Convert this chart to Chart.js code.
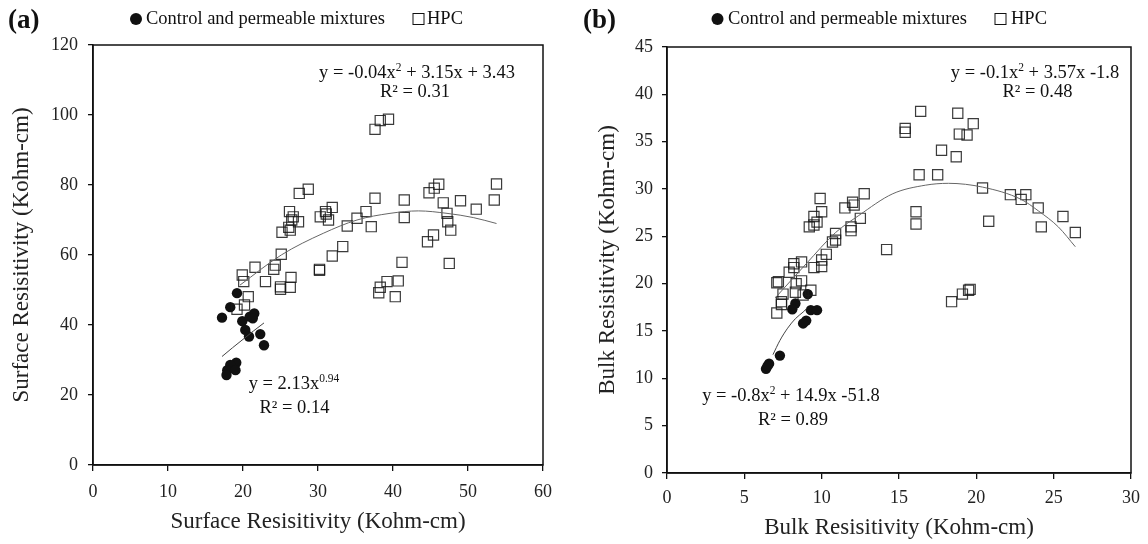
<!DOCTYPE html>
<html>
<head>
<meta charset="utf-8">
<script src="https://cdn.jsdelivr.net/npm/chart.js@4.4.1/dist/chart.umd.min.js"></script>
<style>
  html, body { margin: 0; padding: 0; background: #fff; }
  #wrap { position: relative; width: 1148px; height: 544px; }
  canvas { position: absolute; top: 0; }
  #chartA { left: 0; }
  #chartB { left: 574px; }
</style>
</head>
<body>
<div id="wrap">
  <canvas id="chartA" width="574" height="544"></canvas>
  <canvas id="chartB" width="574" height="544"></canvas>
</div>
<script>
// ---- (a) surface resistivity ----
const ctrlSurfX = [19.2, 18.3, 17.2, 19.9, 20.9, 21.5, 21.3, 20.3, 20.8, 22.3, 22.8, 19.1, 18.3, 17.9, 17.8, 19.0];
const ctrlSurfY = [49.1, 45.1, 42.1, 41.1, 42.4, 43.3, 41.9, 38.6, 36.7, 37.4, 34.2, 29.2, 28.6, 27.1, 25.7, 27.1];

const hpcSurfX = [28.7, 27.5, 26.2, 26.7, 27.4, 26.5, 26.1, 25.2, 26.3, 31.9, 31.0, 30.3, 31.4, 31.1,
  37.6, 36.4, 35.2, 33.9, 37.1, 41.5, 41.5, 46.1, 45.5, 44.8, 46.7, 47.2, 47.3, 47.7, 49.0, 51.1,
  53.8, 53.5, 45.4, 44.6, 41.2, 47.5, 33.3, 31.9, 30.2, 30.2, 25.1, 24.3, 24.1, 21.6, 19.9, 20.1,
  23.0, 26.4, 26.3, 25.0, 25.0, 39.2, 40.7, 38.3, 38.1, 40.3, 20.7, 20.2, 19.2, 39.4, 38.3, 37.6];
const hpcSurfY = [78.8, 77.6, 72.4, 70.9, 69.5, 70.0, 67.9, 66.5, 67.1, 73.6, 72.4, 70.9, 70.0, 71.7,
  76.2, 72.4, 70.5, 68.3, 68.1, 75.7, 70.7, 80.2, 79.1, 77.8, 74.9, 71.9, 69.5, 67.1, 75.5, 73.1,
  80.3, 75.7, 65.7, 63.8, 57.9, 57.6, 62.4, 59.7, 55.9, 55.6, 60.2, 57.1, 55.9, 56.5, 54.3, 52.4,
  52.4, 53.6, 50.8, 50.9, 50.2, 52.4, 52.6, 50.8, 49.2, 48.1, 48.1, 45.7, 44.5, 98.8, 98.4, 95.9];

// fitted curves as drawn in the figure
const fitCtrlSurfX = [17.2, 18.6, 20.0, 21.4, 22.8];
const fitCtrlSurfY = [31.0, 33.5, 35.9, 38.3, 40.6];
const fitHpcSurfX = [19.6, 25.1, 30.7, 35.2, 39.6, 43.4, 47.2, 50.7, 53.8];
const fitHpcSurfY = [51.4, 60.0, 66.2, 70.0, 71.9, 72.6, 71.9, 70.7, 69.0];

// ---- (b) bulk resistivity ----
const ctrlBulkX = [9.1, 8.3, 8.1, 9.3, 9.7, 9.0, 8.8, 7.3, 6.6, 6.4, 6.5];
const ctrlBulkY = [18.9, 17.9, 17.3, 17.2, 17.2, 16.1, 15.8, 12.4, 11.55, 11.0, 11.3];

const hpcBulkX = [16.4, 18.8, 19.8, 15.4, 15.4, 18.9, 19.4, 17.75, 18.7, 16.3, 17.5, 20.4, 22.2, 23.2,
  22.9, 24.0, 25.6, 24.2, 26.4, 20.8, 16.1, 16.1, 14.2, 12.75, 12.0, 12.1, 11.5, 12.5, 11.9, 11.9,
  9.9, 10.0, 9.5, 9.7, 9.5, 9.2, 10.9, 10.7, 10.9, 10.3, 10.0, 10.0, 9.5, 8.7, 8.2, 8.2, 7.9, 7.2,
  8.7, 8.35, 8.3, 9.3, 7.5, 19.6, 19.5, 19.1, 18.4, 7.1, 7.4, 7.4, 7.1, 8.8];
const hpcBulkY = [38.2, 38.0, 36.9, 36.4, 36.0, 35.8, 35.7, 34.1, 33.4, 31.5, 31.5, 30.1, 29.4, 29.4,
  28.9, 28.0, 27.1, 26.0, 25.4, 26.6, 27.6, 26.3, 23.6, 29.5, 28.6, 28.3, 28.0, 26.9, 26.0, 25.6,
  29.0, 27.6, 27.1, 26.5, 26.2, 26.0, 25.3, 24.4, 24.6, 23.1, 22.5, 21.8, 21.7, 22.3, 22.1, 21.7, 21.2, 20.2,
  20.3, 20.0, 19.1, 19.3, 18.9, 19.4, 19.3, 18.9, 18.1, 20.1, 18.1, 17.8, 16.9, 18.8];

const fitCtrlBulkX = [6.85, 7.3, 7.8, 8.3, 8.8, 9.05];
const fitCtrlBulkY = [12.5, 14.0, 15.3, 16.3, 17.0, 17.4];
const fitHpcBulkX = [7.0, 9.0, 10.9, 12.4, 14.6, 16.7, 18.2, 20.4, 22.9, 24.0, 25.3, 26.4];
const fitHpcBulkY = [18.5, 22.1, 25.4, 27.2, 29.5, 30.4, 30.6, 30.2, 28.9, 27.7, 26.0, 23.9];

const legendNames = ["Control and permeable mixtures", "HPC"];
const FONT = "Liberation Serif";

function pts(xs, ys) { return xs.map((x, i) => ({ x: x, y: ys[i] })); }

// draws a line of text with superscript runs, centred on cx, baseline y
function drawRuns(ctx, runs, cx, y, size) {
  let w = 0;
  runs.forEach(r => {
    ctx.font = (r[1] ? size * 0.62 : size) + "px '" + FONT + "'";
    w += ctx.measureText(r[0]).width;
  });
  let x = cx - w / 2;
  ctx.textAlign = "left";
  ctx.textBaseline = "alphabetic";
  runs.forEach(r => {
    ctx.font = (r[1] ? size * 0.62 : size) + "px '" + FONT + "'";
    ctx.fillText(r[0], x, r[1] ? y - size * 0.36 : y);
    x += ctx.measureText(r[0]).width;
  });
}

const decorPlugin = {
  id: "decor",
  afterDraw(chart, args, o) {
    const ctx = chart.ctx, a = chart.chartArea;
    ctx.save();
    // box round plot
    ctx.strokeStyle = "#111";
    ctx.lineWidth = 1.5;
    ctx.strokeRect(a.left, a.top, a.right - a.left, a.bottom - a.top);
    ctx.fillStyle = "#111";
    // panel letter
    ctx.font = "bold 27px '" + FONT + "'";
    ctx.textAlign = "left";
    ctx.textBaseline = "alphabetic";
    ctx.fillText(o.panel, o.panelX, 28);
    // legend
    ctx.beginPath();
    ctx.arc(o.legend[0], 19, 6, 0, Math.PI * 2);
    ctx.fill();
    ctx.font = "18.5px '" + FONT + "'";
    ctx.textBaseline = "middle";
    ctx.fillText(legendNames[0], o.legend[1], 19);
    ctx.lineWidth = 1;
    ctx.strokeRect(o.legend[2] - 5.5, 13.5, 11, 11);
    ctx.fillText(legendNames[1], o.legend[3], 19);
    // equations
    o.notes.forEach(n => drawRuns(ctx, n.runs, n.x, n.y, 18.5));
    ctx.restore();
  }
};

function makeChart(id, cfg) {
  const tickFont = { family: FONT, size: 18 };
  const titleFont = { family: FONT, size: 23 };
  return new Chart(document.getElementById(id), {
    type: "scatter",
    data: {
      datasets: [
        { data: cfg.fitHpc, showLine: true, cubicInterpolationMode: "monotone", borderColor: "#666", borderWidth: 1, pointRadius: 0 },
        { data: cfg.fitCtrl, showLine: true, cubicInterpolationMode: "monotone", borderColor: "#444", borderWidth: 1, pointRadius: 0 },
        { label: legendNames[1], data: cfg.hpc, pointStyle: "rect", pointRadius: 7.2, backgroundColor: "rgba(0,0,0,0)", borderColor: "rgba(25,25,25,0.85)", borderWidth: 1.2 },
        { label: legendNames[0], data: cfg.ctrl, pointStyle: "circle", pointRadius: 5.2, backgroundColor: "#111", borderColor: "#111", borderWidth: 0 }
      ]
    },
    options: {
      responsive: false,
      animation: false,
      events: [],
      layout: { padding: { top: cfg.top, right: cfg.right, bottom: 0, left: 0 } },
      plugins: {
        legend: { display: false },
        tooltip: { enabled: false },
        decor: cfg.decor
      },
      scales: {
        x: {
          type: "linear", min: 0, max: cfg.xMax,
          ticks: { stepSize: cfg.xStep, color: "#222", font: tickFont, padding: cfg.xPad, maxRotation: 0 },
          grid: { drawOnChartArea: false, drawTicks: true, tickLength: 6, color: "#111", lineWidth: 1.3 },
          border: { color: "#111", width: 1.5 },
          title: { display: true, text: cfg.xTitle, color: "#222", font: titleFont, padding: { top: 0, bottom: cfg.xTitlePad } },
          afterFit: s => { s.height = cfg.xHeight; }
        },
        y: {
          type: "linear", min: 0, max: cfg.yMax,
          ticks: { stepSize: cfg.yStep, color: "#222", font: tickFont, padding: cfg.yPad },
          grid: { drawOnChartArea: false, drawTicks: true, tickLength: 5, color: "#111", lineWidth: 1.3 },
          border: { color: "#111", width: 1.5 },
          title: { display: true, text: cfg.yTitle, color: "#222", font: titleFont, padding: { top: cfg.yTitlePad, bottom: 0 } },
          afterFit: s => { s.width = 93; }
        }
      }
    },
    plugins: [decorPlugin]
  });
}

makeChart("chartA", {
  ctrl: pts(ctrlSurfX, ctrlSurfY), hpc: pts(hpcSurfX, hpcSurfY),
  fitCtrl: pts(fitCtrlSurfX, fitCtrlSurfY), fitHpc: pts(fitHpcSurfX, fitHpcSurfY),
  xMax: 60, xStep: 10, yMax: 120, yStep: 20,
  xTitle: "Surface Resisitivity (Kohm-cm)", yTitle: "Surface Resisitivity (Kohm-cm)",
  top: 45, right: 31, xHeight: 79, xPad: 10, yPad: 10, xTitlePad: 8.5, yTitlePad: 8,
  decor: {
    panel: "(a)", panelX: 8,
    legend: [136, 146, 418.5, 427],
    notes: [
      { runs: [["y = -0.04x"], ["2", 1], [" + 3.15x + 3.43"]], x: 417, y: 78 },
      { runs: [["R² = 0.31"]], x: 415, y: 97 },
      { runs: [["y = 2.13x"], ["0.94", 1]], x: 294, y: 389 },
      { runs: [["R² = 0.14"]], x: 294.5, y: 413 }
    ]
  }
});

makeChart("chartB", {
  ctrl: pts(ctrlBulkX, ctrlBulkY), hpc: pts(hpcBulkX, hpcBulkY),
  fitCtrl: pts(fitCtrlBulkX, fitCtrlBulkY), fitHpc: pts(fitHpcBulkX, fitHpcBulkY),
  xMax: 30, xStep: 5, yMax: 45, yStep: 5,
  xTitle: "Bulk Resisitivity (Kohm-cm)", yTitle: "Bulk Resisitivity (Kohm-cm)",
  top: 47, right: 15, xHeight: 71, xPad: 8, yPad: 9, xTitlePad: 2.5, yTitlePad: 20,
  decor: {
    panel: "(b)", panelX: 9,
    legend: [143.5, 154, 426.5, 437],
    notes: [
      { runs: [["y = -0.1x"], ["2", 1], [" + 3.57x -1.8"]], x: 461, y: 78 },
      { runs: [["R² = 0.48"]], x: 463.5, y: 97 },
      { runs: [["y = -0.8x"], ["2", 1], [" + 14.9x -51.8"]], x: 217, y: 401 },
      { runs: [["R² = 0.89"]], x: 219, y: 425 }
    ]
  }
});
</script>
</body>
</html>
